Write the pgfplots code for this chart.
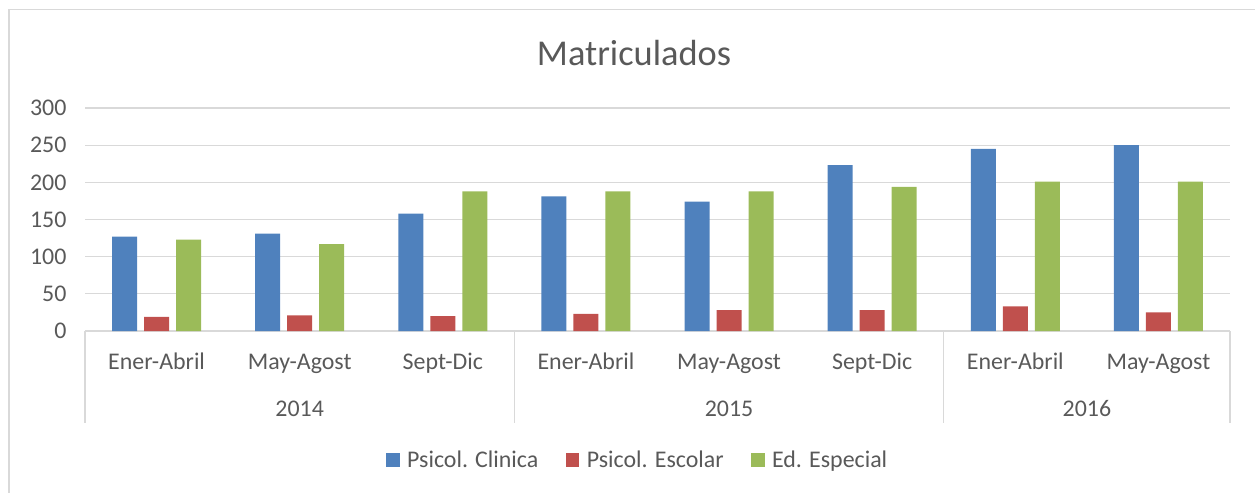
\documentclass[border=0pt]{standalone}
\usepackage{pgfplots}
\pgfplotsset{compat=1.18}
\usepackage{fontspec}
\setmainfont{Carlito}
\definecolor{txt}{HTML}{595959}
\definecolor{grd}{HTML}{D9D9D9}
\definecolor{cA}{HTML}{4F81BD}
\definecolor{cB}{HTML}{C0504D}
\definecolor{cC}{HTML}{9BBB59}
\newcommand{\lbl}{\fontsize{24}{28}\selectfont}
\begin{document}
\begin{tikzpicture}
\useasboundingbox (0bp,0bp) rectangle (1255bp,-493bp);
\draw[grd, line width=1.3bp] (9bp,-500bp) -- (9bp,-9.5bp) -- (1260bp,-9.5bp);
\node[text=txt, font=\fontsize{36.5}{42}\selectfont] at (634bp,-53bp) {Matriculados};
\begin{axis}[
  at={(85bp,-331bp)}, anchor=south west,
  scale only axis, width=1145bp, height=223bp,
  clip=false,
  ybar,
  ymin=0, ymax=300, ytick={0,50,...,300},
  xmin=-0.5, xmax=7.5, xtick={0,...,7},
  xticklabels={Ener-Abril,May-Agost,Sept-Dic,Ener-Abril,May-Agost,Sept-Dic,Ener-Abril,May-Agost},
  axis line style={draw=none},
  major tick length=0pt,
  ymajorgrids, grid style={grd, line width=1.3bp},
  tick label style={text=txt, font=\lbl},
  /pgf/number format/assume math mode=true,
  xticklabel style={anchor=base, yshift=-38bp},
  yticklabel style={anchor=east, xshift=-15bp},
  bar width=0.175,
  legend columns=3,
  legend style={at={(0.483,-0.578)}, anchor=center, draw=none, font=\lbl, text=txt,
     /tikz/every odd column/.append style={column sep=5bp},
     /tikz/every even column/.append style={column sep=25bp},
     nodes={inner sep=2.5bp}},
  legend image code/.code={\path[#1] (0bp,-6.7bp) rectangle (13.4bp,6.7bp);},
]
\addplot[fill=cA, draw=none, bar shift=-0.2236] coordinates {(0,127) (1,131) (2,158) (3,181) (4,174) (5,223) (6,245) (7,250)};
\addplot[fill=cB, draw=none, bar shift=0] coordinates {(0,19) (1,21) (2,20) (3,23) (4,28) (5,28) (6,33) (7,25)};
\addplot[fill=cC, draw=none, bar shift=0.2236] coordinates {(0,123) (1,117) (2,188) (3,188) (4,188) (5,194) (6,201) (7,201)};
\legend{Psicol. Clinica, Psicol. Escolar, Ed. Especial}
\draw[grd, line width=1.3bp] (axis cs:-0.5,0) -- ++(0bp,-92bp);
\draw[grd, line width=1.3bp] (axis cs:2.5,0) -- ++(0bp,-92bp);
\draw[grd, line width=1.3bp] (axis cs:5.5,0) -- ++(0bp,-92bp);
\draw[grd, line width=1.3bp] (axis cs:7.5,0) -- ++(0bp,-92bp);
\node[anchor=base, text=txt, font=\lbl] at ([yshift=-85bp]axis cs:1,0) {2014};
\node[anchor=base, text=txt, font=\lbl] at ([yshift=-85bp]axis cs:4,0) {2015};
\node[anchor=base, text=txt, font=\lbl] at ([yshift=-85bp]axis cs:6.5,0) {2016};
\end{axis}
\end{tikzpicture}
\end{document}
